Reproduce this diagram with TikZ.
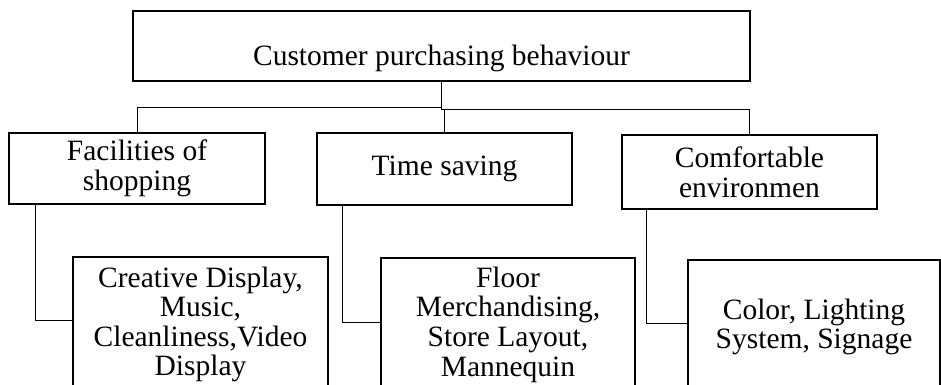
\documentclass[tikz,border=0pt]{standalone}
\usepackage{fontspec}
\setmainfont{Liberation Serif}
\begin{document}
\begin{tikzpicture}[x=1pt,y=-1pt,
  box/.style={draw, line width=1.8pt, inner sep=0pt, align=center,
    font=\fontsize{29.5pt}{29.6pt}\selectfont},
  conn/.style={draw, line width=1pt}]
\clip (0,0) rectangle (941,384);
\node[box, minimum width=617pt, minimum height=70pt, text height=38pt, text depth=0pt] (top) at (441.5,46) {Customer purchasing behaviour};
\node[box, minimum width=256pt, minimum height=71pt] (fac) at (137,168.5) {Facilities of\\shopping};
\node[box, minimum width=255pt, minimum height=72pt] (ts) at (444.5,169) {Time saving};
\node[box, minimum width=255pt, minimum height=74pt] (com) at (749.5,172) {Comfortable\\environmen};
\node[box, minimum width=255pt, minimum height=135pt] (c1) at (200.5,324.5) {Creative Display,\\Music,\\Cleanliness,Video\\Display};
\node[box, minimum width=254pt, minimum height=133pt] (c2) at (508,324.5) {Floor\\Merchandising,\\Store Layout,\\Mannequin};
\node[box, minimum width=252pt, minimum height=134pt] (c3) at (814,327) {Color, Lighting\\System, Signage};
\coordinate (jl) at (441.5,107);
\coordinate (jr) at (441.5,109);
\draw[conn] (top.south) -- (jl) -| (fac.north);
\draw[conn] (jl) -- (jr) -| (com.north);
\draw[conn] (ts.north |- jr) -- (ts.north);
\draw[conn] ([xshift=27pt]fac.south west) |- ([yshift=4.5pt]c1.west);
\draw[conn] ([xshift=26pt]ts.south west) |- ([yshift=2.5pt]c2.west);
\draw[conn] ([xshift=25pt]com.south west) |- ([yshift=4pt]c3.west);
\end{tikzpicture}
\end{document}
